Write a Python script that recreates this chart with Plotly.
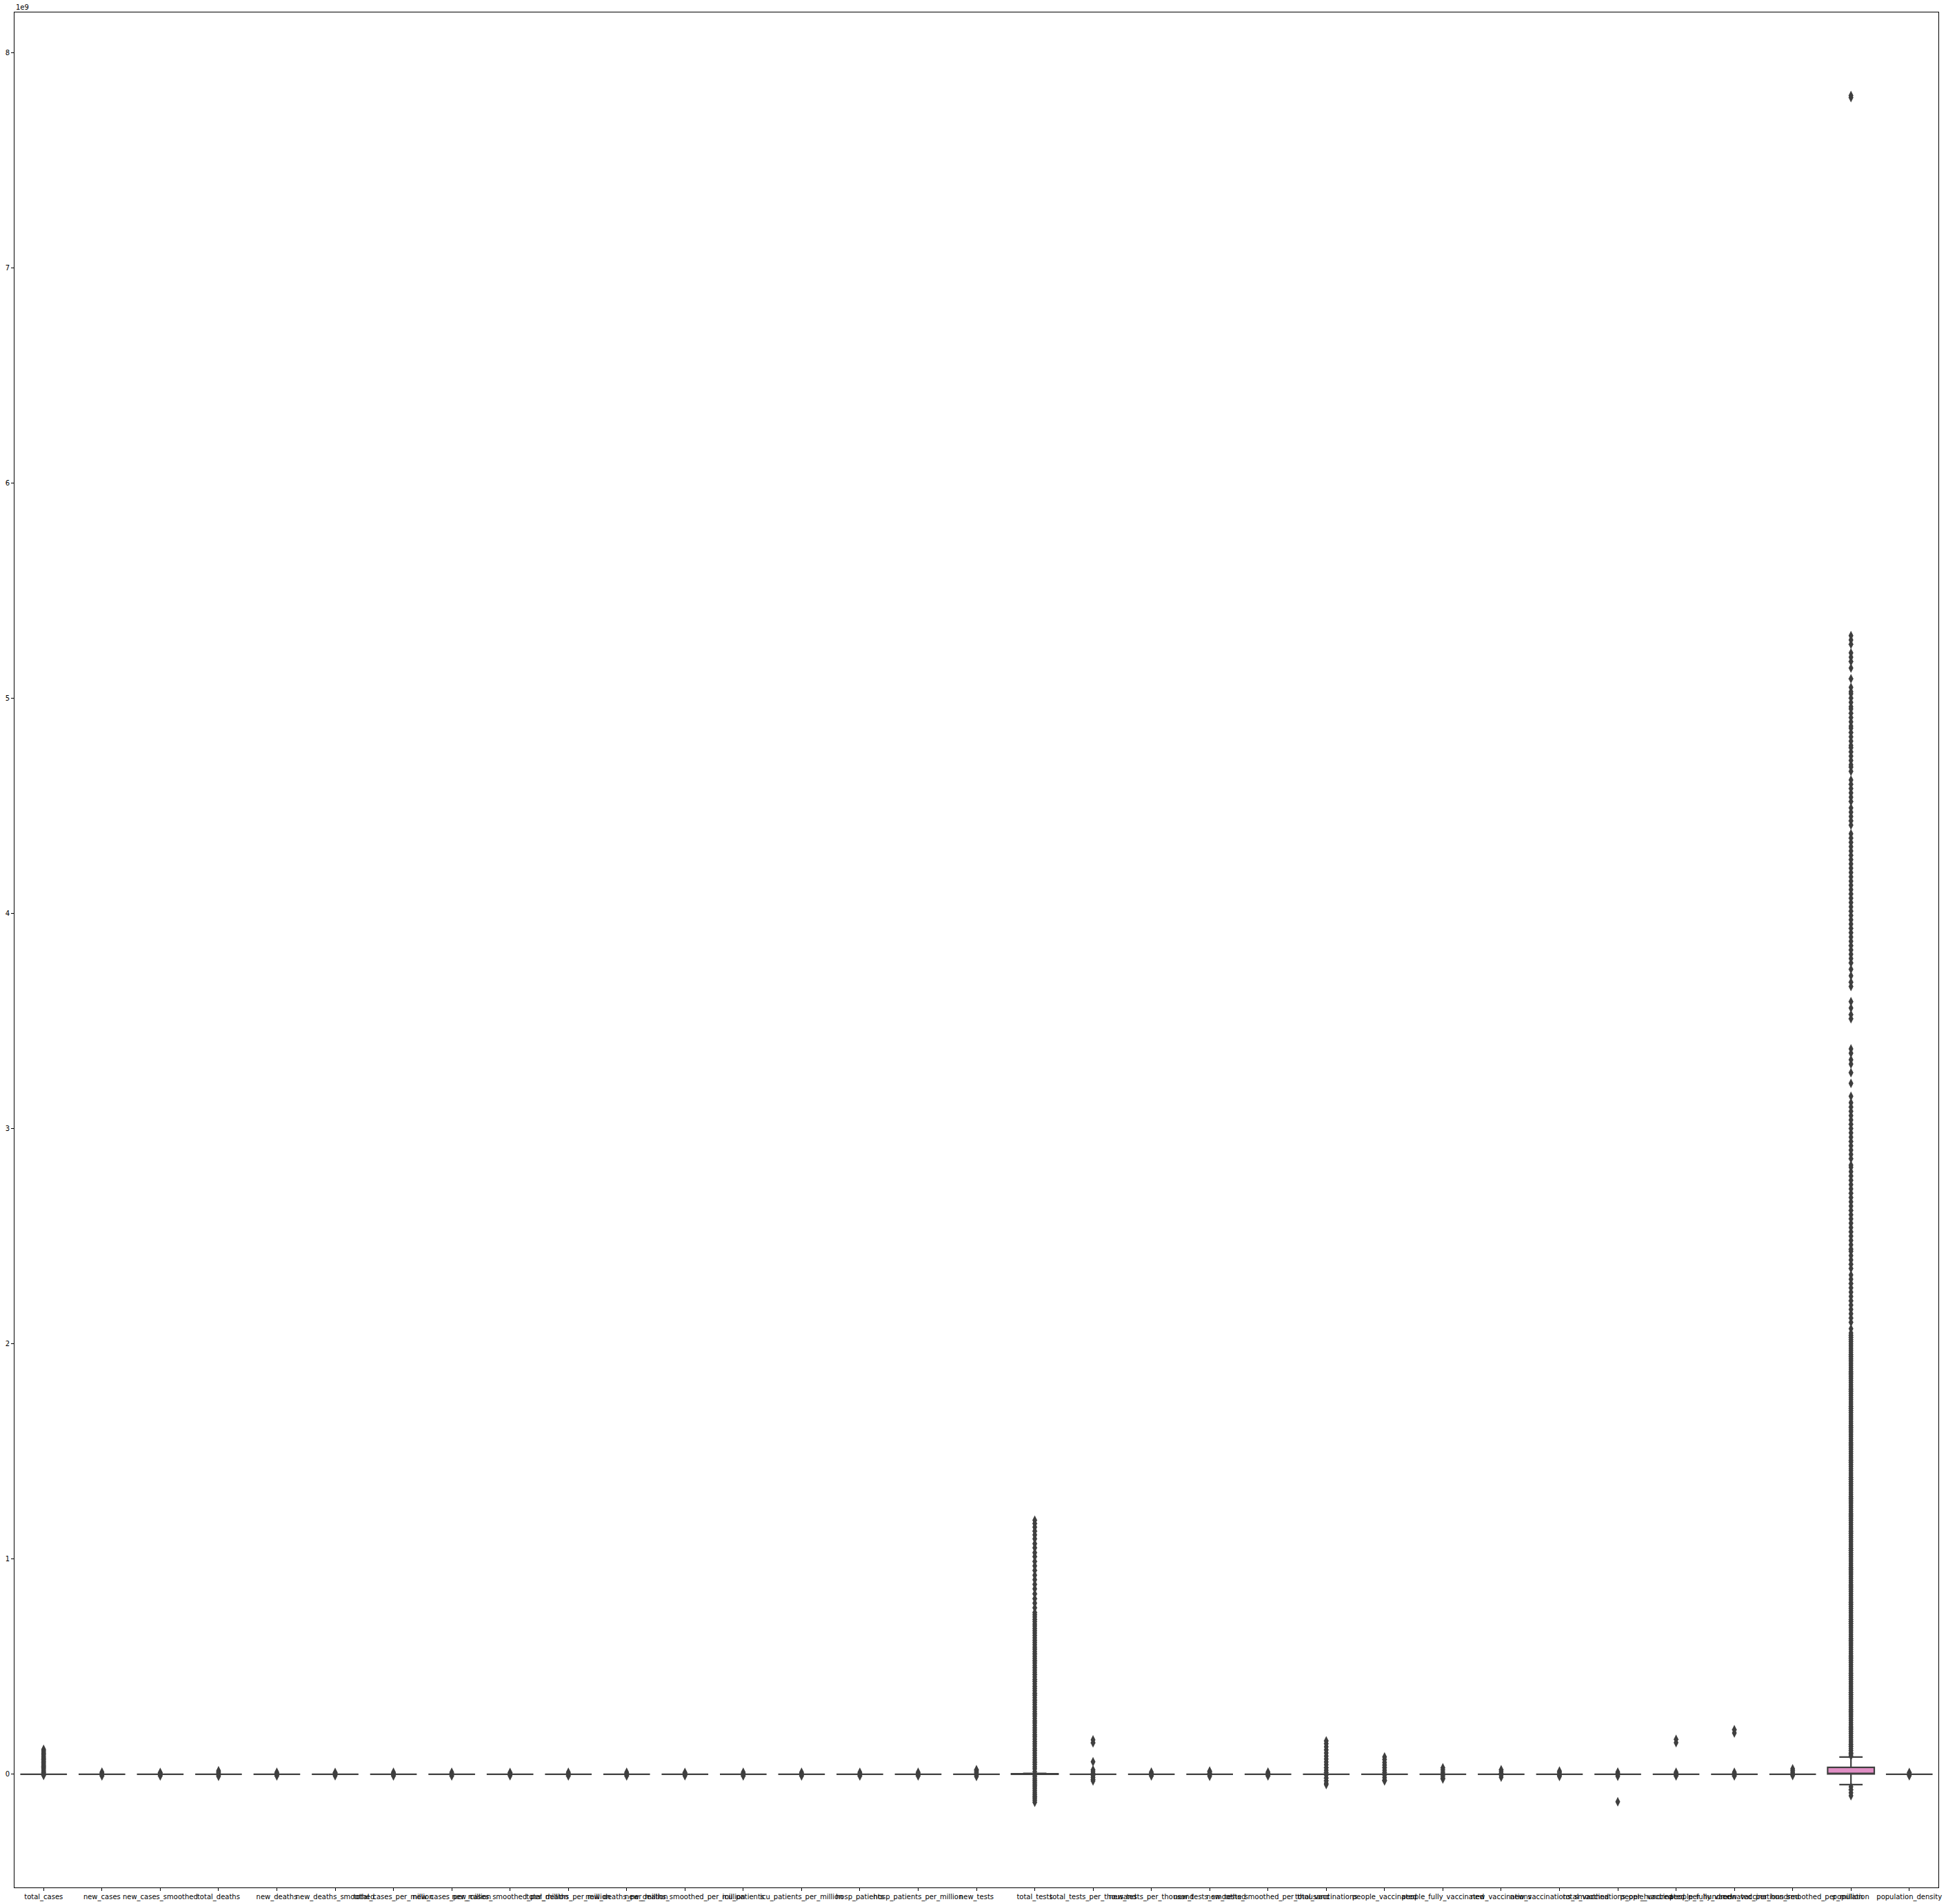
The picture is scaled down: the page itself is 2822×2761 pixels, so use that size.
import plotly.graph_objects as go

# ---------------- data (values in units of 1e9) ----------------
categories = [
    "total_cases", "new_cases", "new_cases_smoothed", "total_deaths", "new_deaths",
    "new_deaths_smoothed", "total_cases_per_million", "new_cases_per_million",
    "new_cases_smoothed_per_million", "total_deaths_per_million", "new_deaths_per_million",
    "new_deaths_smoothed_per_million", "icu_patients", "icu_patients_per_million",
    "hosp_patients", "hosp_patients_per_million", "new_tests", "total_tests",
    "total_tests_per_thousand", "new_tests_per_thousand", "new_tests_smoothed",
    "new_tests_smoothed_per_thousand", "total_vaccinations", "people_vaccinated",
    "people_fully_vaccinated", "new_vaccinations", "new_vaccinations_smoothed",
    "total_vaccinations_per_hundred", "people_vaccinated_per_hundred",
    "people_fully_vaccinated_per_hundred", "new_vaccinations_smoothed_per_million",
    "population", "population_density",
]

q1_e9 = [0, 0, 0, 0, 0, 0, 0, 0, 0, 0, 0, 0, 0, 0, 0, 0, 0, 0, 0, 0, 0, 0, 0, 0, 0, 0, 0, 0, 0, 0, 0, 0.001, 0]
median_e9 = [0, 0, 0, 0, 0, 0, 0, 0, 0, 0, 0, 0, 0, 0, 0, 0, 0, 0, 0, 0, 0, 0, 0, 0, 0, 0, 0, 0, 0, 0, 0, 0.004, 0]
q3_e9 = [0, 0, 0, 0, 0, 0, 0, 0, 0, 0, 0, 0, 0, 0, 0, 0, 0, 0.002, 0, 0, 0, 0, 0, 0, 0, 0, 0, 0, 0, 0, 0, 0.032, 0]
lower_e9 = [0, 0, 0, 0, 0, 0, 0, 0, 0, 0, 0, 0, 0, 0, 0, 0, 0, 0, 0, 0, 0, 0, 0, 0, 0, 0, 0, 0, 0, 0, 0, -0.048, 0]
upper_e9 = [0, 0, 0, 0, 0, 0, 0, 0, 0, 0, 0, 0, 0, 0, 0, 0, 0, 0.004, 0, 0, 0, 0, 0, 0, 0, 0, 0, 0, 0, 0, 0, 0.080, 0]

out_total_cases = [0.116, 0.111, 0.105, 0.099, 0.094, 0.088, 0.081, 0.075, 0.069, 0.062, 0.056,
                   0.049, 0.043, 0.037, 0.031, 0.025, 0.019, 0.013, 0.008, 0.003, -0.002, -0.005]
out_new_cases = [0.010, 0.006, 0.003, -0.003, -0.008]
out_new_cases_smoothed = [0.008, 0.004, -0.003, -0.008]
out_total_deaths = [0.016, 0.011, 0.006, 0.002, -0.004, -0.009]
out_new_deaths = [0.009, 0.005, -0.003, -0.008]
out_new_deaths_smoothed = [0.008, 0.004, -0.003, -0.007]
out_total_cases_per_million = [0.009, 0.005, -0.003, -0.008]
out_new_cases_per_million = [0.009, 0.004, -0.003, -0.008]
out_new_cases_smoothed_per_million = [0.008, 0.004, -0.003, -0.007]
out_total_deaths_per_million = [0.009, 0.004, -0.003, -0.008]
out_new_deaths_per_million = [0.009, 0.004, -0.003, -0.008]
out_new_deaths_smoothed_per_million = [0.008, 0.004, -0.003, -0.007]
out_icu_patients = [0.009, 0.004, -0.003, -0.008]
out_icu_patients_per_million = [0.009, 0.004, -0.003, -0.008]
out_hosp_patients = [0.009, 0.004, -0.003, -0.008]
out_hosp_patients_per_million = [0.009, 0.004, -0.003, -0.008]
out_new_tests = [0.021, 0.016, 0.011, 0.006, -0.004, -0.010]
out_total_tests = [1.180, 1.165, 1.148, 1.130, 1.112, 1.094, 1.071, 1.052, 1.030, 1.011, 0.989,
                   0.968, 0.947, 0.925, 0.904, 0.882, 0.861, 0.838, 0.816, 0.795, 0.773, 0.752,
                   0.741, 0.731, 0.720, 0.709, 0.698, 0.688, 0.677, 0.667, 0.656, 0.645, 0.634,
                   0.623, 0.612, 0.602, 0.591, 0.581, 0.570, 0.559, 0.548, 0.538, 0.527, 0.517,
                   0.506, 0.495, 0.484, 0.474, 0.463, 0.452, 0.441, 0.431, 0.420, 0.409, 0.398,
                   0.388, 0.377, 0.367, 0.356, 0.345, 0.334, 0.324, 0.313, 0.302, 0.291, 0.281,
                   0.270, 0.259, 0.248, 0.238, 0.227, 0.216, 0.205, 0.195, 0.184, 0.174, 0.163,
                   0.152, 0.141, 0.131, 0.120, 0.110, 0.099, 0.088, 0.077, 0.067, 0.056, 0.046,
                   0.035, 0.025, 0.012, -0.004, -0.012, -0.021, -0.030, -0.040, -0.049, -0.058,
                   -0.067, -0.077, -0.086, -0.095, -0.104, -0.112, -0.121, -0.130]
out_total_tests_per_thousand = [0.160, 0.146, 0.058, 0.020, 0.012, 0.004, -0.006, -0.015, -0.024, -0.031]
out_new_tests_per_thousand = [0.010, 0.005, -0.003, -0.008]
out_new_tests_smoothed = [0.015, 0.010, 0.005, -0.004, -0.009]
out_new_tests_smoothed_per_thousand = [0.010, 0.005, -0.003, -0.008]
out_total_vaccinations = [0.155, 0.142, 0.128, 0.113, 0.099, 0.084, 0.071, 0.057, 0.044, 0.031,
                          0.019, 0.008, -0.004, -0.017, -0.030, -0.042, -0.048]
out_people_vaccinated = [0.080, 0.068, 0.055, 0.043, 0.031, 0.019, 0.008, -0.004, -0.016, -0.027, -0.031]
out_people_fully_vaccinated = [0.030, 0.020, 0.010, 0.002, -0.008, -0.017, -0.022]
out_new_vaccinations = [0.021, 0.013, 0.005, -0.004, -0.013]
out_new_vaccinations_smoothed = [0.015, 0.008, 0.002, -0.005, -0.010]
out_total_vaccinations_per_hundred = [0.010, 0.004, -0.003, -0.009, -0.128]
out_people_vaccinated_per_hundred = [0.162, 0.147, 0.009, 0.004, -0.003, -0.008]
out_people_fully_vaccinated_per_hundred = [0.207, 0.192, 0.009, 0.004, -0.003, -0.008]
out_new_vaccinations_smoothed_per_million = [0.025, 0.017, 0.009, 0.002, -0.006]
out_population = [
    7.80, 7.79,
    5.29, 5.27, 5.25, 5.21, 5.19, 5.17, 5.14, 5.09, 5.05, 5.03, 5.02,
    5.00, 4.98, 4.96, 4.95, 4.93, 4.91, 4.89, 4.87, 4.86, 4.84, 4.82, 4.80, 4.78, 4.77, 4.75,
    4.73, 4.71, 4.69, 4.68, 4.66,
    4.62, 4.60, 4.58, 4.56, 4.54, 4.52, 4.49,
    4.47, 4.45, 4.43, 4.41,
    4.37, 4.35, 4.33, 4.31, 4.29, 4.27, 4.25, 4.23, 4.21, 4.19, 4.17, 4.15, 4.13, 4.11, 4.09,
    4.07, 4.05, 4.03, 4.01, 3.99, 3.97, 3.95, 3.93, 3.91, 3.89, 3.87, 3.85, 3.83, 3.81, 3.79,
    3.77, 3.74,
    3.71, 3.68, 3.66,
    3.59, 3.56, 3.53, 3.51,
    3.37, 3.35, 3.32, 3.30, 3.26, 3.21, 3.15,
    3.12, 3.10, 3.08, 3.06, 3.04,
    3.02, 3.00, 2.98, 2.96, 2.94, 2.92, 2.90, 2.88, 2.86, 2.83,
    2.82, 2.80, 2.78, 2.76, 2.74, 2.72, 2.70, 2.68,
    2.66, 2.64, 2.62, 2.60, 2.58, 2.56, 2.54, 2.52, 2.50, 2.48, 2.46, 2.44,
    2.43, 2.41, 2.39, 2.37, 2.35, 2.32, 2.30, 2.28, 2.26, 2.24, 2.22, 2.20, 2.18, 2.16, 2.14,
    2.12, 2.10, 2.07,
    2.05, 2.04, 2.03, 2.02, 2.01, 2.00, 1.99, 1.98, 1.97, 1.96, 1.95, 1.94, 1.93, 1.92, 1.91,
    1.90, 1.89, 1.88, 1.87, 1.86, 1.85, 1.84, 1.83, 1.82, 1.81, 1.80, 1.79, 1.78, 1.77, 1.76,
    1.75, 1.74, 1.73, 1.72, 1.71, 1.70, 1.69, 1.68, 1.67, 1.66, 1.65, 1.64, 1.63, 1.62, 1.61,
    1.60, 1.59, 1.58, 1.57, 1.56, 1.55, 1.54, 1.53, 1.52, 1.51, 1.50, 1.49, 1.48, 1.47, 1.46,
    1.45, 1.44, 1.43, 1.42, 1.41, 1.40, 1.39, 1.38, 1.37, 1.36, 1.35, 1.34, 1.33, 1.32, 1.31,
    1.30, 1.29, 1.28, 1.27, 1.26, 1.25, 1.24, 1.23, 1.22, 1.21, 1.20, 1.19, 1.18, 1.17, 1.16,
    1.15, 1.14, 1.13, 1.12, 1.11, 1.10, 1.09, 1.08, 1.07, 1.06, 1.05, 1.04, 1.03, 1.02, 1.01,
    1.00, 0.99, 0.98, 0.97, 0.96, 0.95, 0.94, 0.93, 0.92, 0.91, 0.90, 0.89, 0.88, 0.87, 0.86,
    0.85, 0.84, 0.83, 0.82, 0.81, 0.80, 0.79, 0.78, 0.77, 0.76, 0.75, 0.74, 0.73, 0.72, 0.71,
    0.70, 0.69, 0.68, 0.67, 0.66, 0.65, 0.64, 0.63, 0.62, 0.61, 0.60, 0.59, 0.58, 0.57, 0.56,
    0.55, 0.54, 0.53, 0.52, 0.51, 0.50, 0.49, 0.48, 0.47, 0.46, 0.45, 0.44, 0.43, 0.42, 0.41,
    0.40, 0.39, 0.38, 0.37, 0.36, 0.35, 0.34, 0.33, 0.32, 0.31, 0.30, 0.29, 0.28, 0.27, 0.26,
    0.25, 0.24, 0.23, 0.22, 0.21, 0.20, 0.19, 0.18, 0.17, 0.16, 0.15, 0.14, 0.13, 0.12, 0.11,
    0.10, 0.095, 0.085,
    -0.058, -0.072, -0.086, -0.100,
]
out_population_density = [0.008, 0.003, -0.003, -0.007]

outliers = [
    out_total_cases, out_new_cases, out_new_cases_smoothed, out_total_deaths, out_new_deaths,
    out_new_deaths_smoothed, out_total_cases_per_million, out_new_cases_per_million,
    out_new_cases_smoothed_per_million, out_total_deaths_per_million, out_new_deaths_per_million,
    out_new_deaths_smoothed_per_million, out_icu_patients, out_icu_patients_per_million,
    out_hosp_patients, out_hosp_patients_per_million, out_new_tests, out_total_tests,
    out_total_tests_per_thousand, out_new_tests_per_thousand, out_new_tests_smoothed,
    out_new_tests_smoothed_per_thousand, out_total_vaccinations, out_people_vaccinated,
    out_people_fully_vaccinated, out_new_vaccinations, out_new_vaccinations_smoothed,
    out_total_vaccinations_per_hundred, out_people_vaccinated_per_hundred,
    out_people_fully_vaccinated_per_hundred, out_new_vaccinations_smoothed_per_million,
    out_population, out_population_density,
]

y_ticks = [0, 1, 2, 3, 4, 5, 6, 7, 8]
offset_label = "1e9"

# ---------------- styling ----------------
LINE = "#3f3f3f"
FILL_DEFAULT = "#5875a4"
FILL_POP = "#e08ec4"
FONT = "DejaVu Sans"

fig = go.Figure()

for i, cat in enumerate(categories):
    fill = FILL_POP if cat == "population" else FILL_DEFAULT
    fig.add_trace(go.Box(
        x=[cat], q1=[q1_e9[i]], median=[median_e9[i]], q3=[q3_e9[i]],
        lowerfence=[lower_e9[i]], upperfence=[upper_e9[i]],
        boxpoints=False, width=0.8, whiskerwidth=0.5,
        fillcolor=fill, line=dict(color=LINE, width=2.2),
        showlegend=False, hoverinfo="skip",
    ))

for i, cat in enumerate(categories):
    ys = outliers[i]
    fig.add_trace(go.Scatter(
        x=[cat] * len(ys), y=ys, mode="markers",
        marker=dict(symbol="diamond-tall", size=10, color=LINE, line=dict(width=0)),
        showlegend=False, hoverinfo="skip",
    ))

fig.update_layout(
    width=2822, height=2761,
    margin=dict(l=21, r=11, t=18, b=24, autoexpand=False),
    plot_bgcolor="white", paper_bgcolor="white",
    boxmode="overlay",
    font=dict(family=FONT, size=10, color="black"),
    xaxis=dict(
        type="category", categoryorder="array", categoryarray=categories,
        range=[-0.5, len(categories) - 0.5],
        showgrid=False, zeroline=False, tickangle=0,
        ticks="outside", ticklen=4, tickcolor="black",
        showline=True, linecolor="black", linewidth=1, mirror=True,
        automargin=False, tickfont=dict(family=FONT, size=10, color="black"),
    ),
    yaxis=dict(
        range=[-0.526, 8.186], tickmode="array", tickvals=y_ticks,
        ticktext=[str(v) for v in y_ticks],
        showgrid=False, zeroline=False,
        ticks="outside", ticklen=4, tickcolor="black",
        showline=True, linecolor="black", linewidth=1, mirror=True,
        automargin=False, tickfont=dict(family=FONT, size=10, color="black"),
    ),
    annotations=[dict(
        text=offset_label, xref="paper", yref="paper", x=0, y=1,
        xanchor="left", yanchor="bottom", showarrow=False,
        font=dict(family=FONT, size=10, color="black"),
    )],
)

fig.write_html("out.html")
